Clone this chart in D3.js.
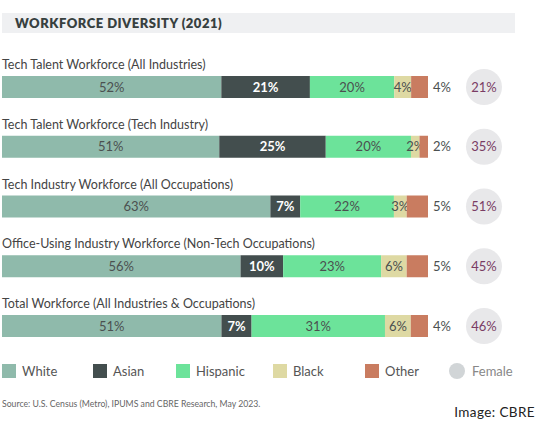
<!DOCTYPE html>
<html><head><meta charset="utf-8">
<script src="https://cdn.jsdelivr.net/npm/d3@7"></script>
<style>body{margin:0;background:#fff}svg{display:block}text{font-family:Lato,"Open Sans",sans-serif}</style>
</head><body><svg id="c" width="540" height="423"></svg>
<script>
const categories = ["Tech Talent Workforce (All Industries)","Tech Talent Workforce (Tech Industry)","Tech Industry Workforce (All Occupations)","Office-Using Industry Workforce (Non-Tech Occupations)","Total Workforce (All Industries & Occupations)"];
const seriesNames = ["White","Asian","Hispanic","Black","Other"];
const white = [52,51,63,56,51];
const asian = [21,25,7,10,7];
const hispanic = [20,20,22,23,31];
const black = [4,2,3,6,6];
const other = [4,2,5,5,4];
const female = [21,35,51,45,46];
const colors = ["#8fbaab","#434e4e","#6ce39a","#ded9a3","#c97c60"];

const svg = d3.select("#c");
svg.append("rect").attr("x",2).attr("y",13).attr("width",513).attr("height",20).attr("fill","#eff0f2");
svg.append("text").attr("x",15).attr("y",28).attr("font-size",13).attr("font-weight",800).attr("letter-spacing",0.5).attr("fill","#37403f").text("WORKFORCE DIVERSITY (2021)");

const series = [white,asian,hispanic,black,other];
const x = d3.scaleLinear().domain([0,1]).range([2,428]);
const y = d3.scalePoint().domain(categories).range([76,315]);
const bh = 22;

categories.forEach((cat,i)=>{
  const vals = series.map(s=>s[i]);
  const sum = d3.sum(vals);
  let cum = 0;
  const g = svg.append("g");
  const y0 = y(cat);
  g.append("text").attr("x",2).attr("y",y0-7).attr("font-size",12.5).attr("fill","#444").text(cat);
  vals.forEach((v,j)=>{
    const a = cum/sum, b=(cum+v)/sum; cum+=v;
    g.append("rect").attr("x",x(a)).attr("y",y0).attr("width",x(b)-x(a)).attr("height",bh).attr("fill",colors[j]);
    if(j<4){
      g.append("text").attr("x",(x(a)+x(b))/2).attr("y",y0+bh/2+4.5).attr("text-anchor","middle")
       .attr("font-size",13).attr("font-weight",j===1?700:400).attr("fill",j===1?"#fff":"#4b5050").text(v+"%");
    } else {
      g.append("text").attr("x",433).attr("y",y0+bh/2+4.5).attr("font-size",13).attr("fill","#4b5050").text(v+"%");
    }
  });
  g.append("circle").attr("cx",484).attr("cy",y0+bh/2).attr("r",18).attr("fill","#e8e8ea");
  g.append("text").attr("x",484).attr("y",y0+bh/2+4.5).attr("text-anchor","middle").attr("font-size",13).attr("fill","#7a3c64").text(female[i]+"%");
});

const legX = [2,93,176,273,365];
seriesNames.forEach((n,j)=>{
  svg.append("rect").attr("x",legX[j]).attr("y",364).attr("width",14).attr("height",14).attr("fill",colors[j]);
  svg.append("text").attr("x",legX[j]+20).attr("y",376).attr("font-size",13).attr("fill","#555").text(n);
});
svg.append("circle").attr("cx",457).attr("cy",371).attr("r",8).attr("fill","#d1d5d7");
svg.append("text").attr("x",472).attr("y",376).attr("font-size",13).attr("fill","#888").text("Female");
svg.append("text").attr("x",2).attr("y",407).attr("font-size",8.7).attr("fill","#666").text("Source:  U.S. Census (Metro), IPUMS and CBRE Research, May 2023.");
svg.append("text").attr("x",535).attr("y",417).attr("text-anchor","end").attr("font-size",13.5).attr("letter-spacing",0.4).attr("fill","#222").attr("font-family","DejaVu Sans").text("Image: CBRE");
</script></body></html>
